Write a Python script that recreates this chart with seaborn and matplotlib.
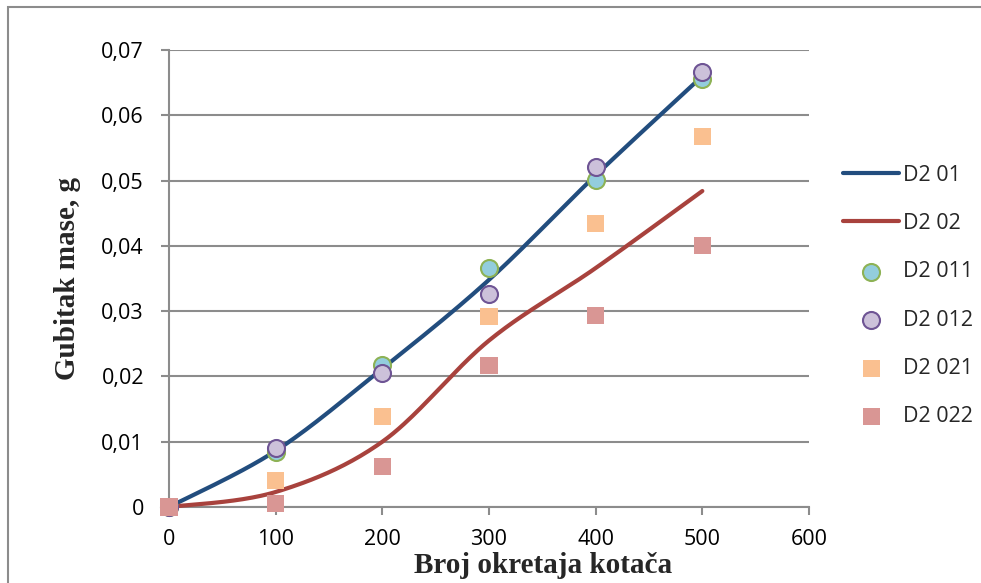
import numpy as np
import seaborn as sns
import matplotlib.pyplot as plt
from matplotlib.patches import Rectangle

# podaci ocitani sa slike
okretaji = [0, 100, 200, 300, 400, 500]
d2_01 = [0, 0.0086, 0.0212, 0.0348, 0.0508, 0.0660]
d2_02 = [0, 0.0023, 0.0100, 0.0255, 0.0366, 0.0484]
d2_011 = [0, 0.0085, 0.0217, 0.0366, 0.0501, 0.0655]
d2_012 = [0, 0.0090, 0.0205, 0.0327, 0.0521, 0.0666]
d2_021 = [0, 0.0041, 0.0139, 0.0292, 0.0435, 0.0567]
d2_022 = [0, 0.0005, 0.0062, 0.0216, 0.0294, 0.0400]
y_ticks = [0, 0.01, 0.02, 0.03, 0.04, 0.05, 0.06, 0.07]
y_labels = ['0', '0,01', '0,02', '0,03', '0,04', '0,05', '0,06', '0,07']
x_ticks = [0, 100, 200, 300, 400, 500, 600]


def smooth(x, y, n=40):
    # Excel-style smoothed line (Bezier, Catmull-Rom control points)
    x = np.asarray(x, float)
    y = np.asarray(y, float)
    px = np.concatenate([[x[0]], x, [x[-1]]])
    py = np.concatenate([[y[0]], y, [y[-1]]])
    xs, ys = [], []
    t = np.linspace(0, 1, n)
    for i in range(1, len(px) - 2):
        p0 = np.array([px[i], py[i]])
        p3 = np.array([px[i + 1], py[i + 1]])
        c1 = p0 + (np.array([px[i + 1], py[i + 1]]) - np.array([px[i - 1], py[i - 1]])) / 6
        c2 = p3 - (np.array([px[i + 2], py[i + 2]]) - np.array([px[i], py[i]])) / 6
        b = ((1 - t) ** 3)[:, None] * p0 + (3 * (1 - t) ** 2 * t)[:, None] * c1 \
            + (3 * (1 - t) * t ** 2)[:, None] * c2 + (t ** 3)[:, None] * p3
        xs.extend(b[:, 0])
        ys.extend(b[:, 1])
    return np.array(xs), np.array(ys)


sns.set_style('white')
plt.rcParams['font.family'] = ['Open Sans', 'DejaVu Sans']

fig = plt.figure(figsize=(9.81, 5.83), dpi=100)
ax = fig.add_axes([169 / 981, 1 - 507 / 583, 640 / 981, 457 / 583])

grid_c = '#8c8c8c'

sx, sy = smooth(okretaji, d2_01)
sns.lineplot(x=sx, y=sy, ax=ax, color='#224D7E', lw=3, sort=False,
             label='D2 01', solid_capstyle='round', clip_on=False, zorder=3)
sx, sy = smooth(okretaji, d2_02)
sns.lineplot(x=sx, y=sy, ax=ax, color='#A8423D', lw=3, sort=False,
             label='D2 02', solid_capstyle='round', clip_on=False, zorder=3)

sns.scatterplot(x=okretaji, y=d2_011, ax=ax, marker='o', s=150, color='#93CDDD',
                edgecolor='#8DB255', linewidth=1.5, label='D2 011', clip_on=False, zorder=4)
sns.scatterplot(x=okretaji, y=d2_012, ax=ax, marker='o', s=150, color='#CCC1DA',
                edgecolor='#6E5494', linewidth=1.5, label='D2 012', clip_on=False, zorder=4)
sns.scatterplot(x=okretaji, y=d2_021, ax=ax, marker='s', s=150, color='#FAC090',
                edgecolor='none', label='D2 021', clip_on=False, zorder=4)
sns.scatterplot(x=okretaji, y=d2_022, ax=ax, marker='s', s=150, color='#D99694',
                edgecolor='none', label='D2 022', clip_on=False, zorder=4)

ax.set_xlim(0, 600)
ax.set_ylim(0, 0.07)
ax.set_xticks(x_ticks)
ax.set_yticks(y_ticks)
ax.set_yticklabels(y_labels)
ax.tick_params(axis='both', labelsize=15.5, colors=grid_c, labelcolor='black',
               length=6, width=1.5, direction='out', left=True, bottom=True)
ax.tick_params(axis='y', pad=12)
ax.tick_params(axis='x', pad=10)
ax.grid(axis='y', color=grid_c, lw=1.5)
ax.set_axisbelow(True)
for s in ['top', 'right']:
    ax.spines[s].set_visible(False)
for s in ['left', 'bottom']:
    ax.spines[s].set_color(grid_c)
    ax.spines[s].set_linewidth(1.5)

ax.set_ylabel('Gubitak mase, g', family='Liberation Serif', fontweight='bold', fontsize=21)
ax.yaxis.set_label_coords(-0.158, 0.5)
ax.yaxis.label.set_va('center')
ax.set_xlabel('Broj okretaja kotača', family='Liberation Serif', fontweight='bold', fontsize=21)
ax.xaxis.set_label_coords(0.584, -0.128)
ax.xaxis.label.set_va('center')

leg = ax.legend(loc='center left', bbox_to_anchor=(1.040, 0.462), frameon=False,
                fontsize=15.5, handlelength=2.6, handletextpad=0.2,
                labelspacing=1.27, borderaxespad=0)

# okvir grafikona
fig.patches.append(Rectangle((8 / 981, -0.1), 1.2, 1 - 7 / 583 + 0.1,
                             transform=fig.transFigure, fill=False,
                             edgecolor='#8c8c8c', lw=1.5))

fig.savefig('out.png', dpi=100)
